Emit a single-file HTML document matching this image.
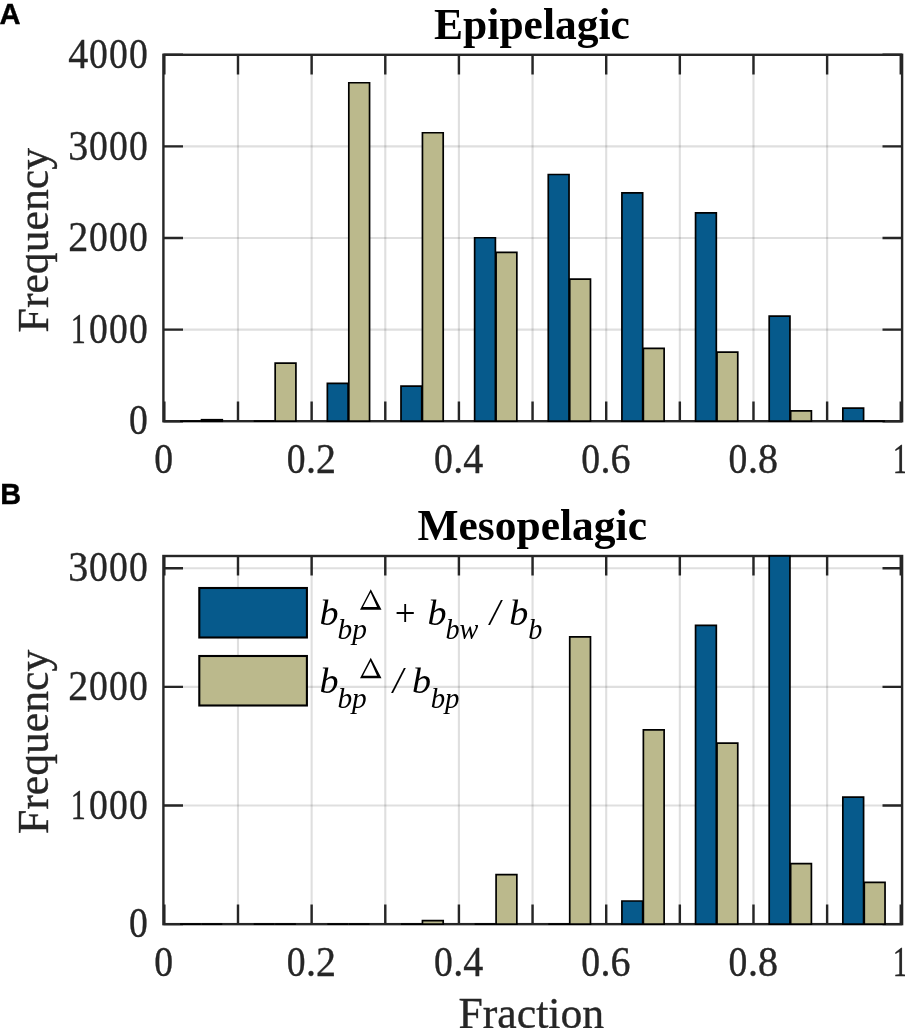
<!DOCTYPE html>
<html><head><meta charset="utf-8"><style>
html,body{margin:0;padding:0;background:#fff;}
svg{display:block;will-change:transform;}

</style></head><body>
<svg width="905" height="1028" viewBox="0 0 905 1028">
<rect width="905" height="1028" fill="#fff"/>
<path d="M238.00 54.80V421.20M311.64 54.80V421.20M385.28 54.80V421.20M458.92 54.80V421.20M532.56 54.80V421.20M606.20 54.80V421.20M679.84 54.80V421.20M753.48 54.80V421.20M827.12 54.80V421.20" stroke="#262626" stroke-opacity="0.15" stroke-width="2.1" fill="none"/>
<path d="M163.40 329.60H902.10M163.40 238.00H902.10M163.40 146.40H902.10" stroke="#262626" stroke-opacity="0.15" stroke-width="2.1" fill="none"/>
<path d="M164.36 421.20V401.60M164.36 54.80V74.40M238.00 421.20V401.60M238.00 54.80V74.40M311.64 421.20V401.60M311.64 54.80V74.40M385.28 421.20V401.60M385.28 54.80V74.40M458.92 421.20V401.60M458.92 54.80V74.40M532.56 421.20V401.60M532.56 54.80V74.40M606.20 421.20V401.60M606.20 54.80V74.40M679.84 421.20V401.60M679.84 54.80V74.40M753.48 421.20V401.60M753.48 54.80V74.40M827.12 421.20V401.60M827.12 54.80V74.40M900.76 421.20V401.60M900.76 54.80V74.40M163.40 421.20H183.00M902.10 421.20H882.50M163.40 329.60H183.00M902.10 329.60H882.50M163.40 238.00H183.00M902.10 238.00H882.50M163.40 146.40H183.00M902.10 146.40H882.50M163.40 54.80H183.00M902.10 54.80H882.50" stroke="#262626" stroke-width="2.4" fill="none"/>
<rect x="163.4" y="54.8" width="738.7" height="366.4" fill="none" stroke="#262626" stroke-width="2.4"/>
<path d="M180.08 421.20V421.20H200.83V421.20Z" fill="#065a8c" stroke="#000" stroke-width="1.7"/><path d="M201.53 421.20V419.73H222.28V421.20Z" fill="#bbb98c" stroke="#000" stroke-width="1.7"/><path d="M253.72 421.20V421.20H274.47V421.20Z" fill="#065a8c" stroke="#000" stroke-width="1.7"/><path d="M275.17 421.20V363.22H295.92V421.20Z" fill="#bbb98c" stroke="#000" stroke-width="1.7"/><path d="M327.36 421.20V383.28H348.11V421.20Z" fill="#065a8c" stroke="#000" stroke-width="1.7"/><path d="M348.81 421.20V82.74H369.56V421.20Z" fill="#bbb98c" stroke="#000" stroke-width="1.7"/><path d="M401.00 421.20V386.12H421.75V421.20Z" fill="#065a8c" stroke="#000" stroke-width="1.7"/><path d="M422.45 421.20V132.75H443.20V421.20Z" fill="#bbb98c" stroke="#000" stroke-width="1.7"/><path d="M474.64 421.20V237.73H495.39V421.20Z" fill="#065a8c" stroke="#000" stroke-width="1.7"/><path d="M496.09 421.20V252.29H516.84V421.20Z" fill="#bbb98c" stroke="#000" stroke-width="1.7"/><path d="M548.28 421.20V174.52H569.03V421.20Z" fill="#065a8c" stroke="#000" stroke-width="1.7"/><path d="M569.73 421.20V279.04H590.48V421.20Z" fill="#bbb98c" stroke="#000" stroke-width="1.7"/><path d="M621.92 421.20V192.93H642.67V421.20Z" fill="#065a8c" stroke="#000" stroke-width="1.7"/><path d="M643.37 421.20V348.47H664.12V421.20Z" fill="#bbb98c" stroke="#000" stroke-width="1.7"/><path d="M695.56 421.20V212.90H716.31V421.20Z" fill="#065a8c" stroke="#000" stroke-width="1.7"/><path d="M717.01 421.20V352.13H737.76V421.20Z" fill="#bbb98c" stroke="#000" stroke-width="1.7"/><path d="M769.20 421.20V316.04H789.95V421.20Z" fill="#065a8c" stroke="#000" stroke-width="1.7"/><path d="M790.65 421.20V410.85H811.40V421.20Z" fill="#bbb98c" stroke="#000" stroke-width="1.7"/><path d="M842.84 421.20V408.10H863.59V421.20Z" fill="#065a8c" stroke="#000" stroke-width="1.7"/><path d="M864.29 421.20V421.20H885.04V421.20Z" fill="#bbb98c" stroke="#000" stroke-width="1.7"/>
<path d="M238.00 556.00V924.15M311.64 556.00V924.15M385.28 556.00V924.15M458.92 556.00V924.15M532.56 556.00V924.15M606.20 556.00V924.15M679.84 556.00V924.15M753.48 556.00V924.15M827.12 556.00V924.15" stroke="#262626" stroke-opacity="0.15" stroke-width="2.1" fill="none"/>
<path d="M163.40 805.50H902.10M163.40 686.85H902.10M163.40 568.20H902.10" stroke="#262626" stroke-opacity="0.15" stroke-width="2.1" fill="none"/>
<path d="M164.36 924.15V904.55M164.36 556.00V575.60M238.00 924.15V904.55M238.00 556.00V575.60M311.64 924.15V904.55M311.64 556.00V575.60M385.28 924.15V904.55M385.28 556.00V575.60M458.92 924.15V904.55M458.92 556.00V575.60M532.56 924.15V904.55M532.56 556.00V575.60M606.20 924.15V904.55M606.20 556.00V575.60M679.84 924.15V904.55M679.84 556.00V575.60M753.48 924.15V904.55M753.48 556.00V575.60M827.12 924.15V904.55M827.12 556.00V575.60M900.76 924.15V904.55M900.76 556.00V575.60M163.40 924.15H183.00M902.10 924.15H882.50M163.40 805.50H183.00M902.10 805.50H882.50M163.40 686.85H183.00M902.10 686.85H882.50M163.40 568.20H183.00M902.10 568.20H882.50" stroke="#262626" stroke-width="2.4" fill="none"/>
<rect x="163.4" y="556.0" width="738.7" height="368.15" fill="none" stroke="#262626" stroke-width="2.4"/>
<path d="M180.08 924.15V924.15H200.83V924.15Z" fill="#065a8c" stroke="#000" stroke-width="1.7"/><path d="M201.53 924.15V924.15H222.28V924.15Z" fill="#bbb98c" stroke="#000" stroke-width="1.7"/><path d="M253.72 924.15V924.15H274.47V924.15Z" fill="#065a8c" stroke="#000" stroke-width="1.7"/><path d="M275.17 924.15V924.15H295.92V924.15Z" fill="#bbb98c" stroke="#000" stroke-width="1.7"/><path d="M327.36 924.15V924.15H348.11V924.15Z" fill="#065a8c" stroke="#000" stroke-width="1.7"/><path d="M348.81 924.15V924.15H369.56V924.15Z" fill="#bbb98c" stroke="#000" stroke-width="1.7"/><path d="M401.00 924.15V924.15H421.75V924.15Z" fill="#065a8c" stroke="#000" stroke-width="1.7"/><path d="M422.45 924.15V920.59H443.20V924.15Z" fill="#bbb98c" stroke="#000" stroke-width="1.7"/><path d="M474.64 924.15V924.15H495.39V924.15Z" fill="#065a8c" stroke="#000" stroke-width="1.7"/><path d="M496.09 924.15V874.55H516.84V924.15Z" fill="#bbb98c" stroke="#000" stroke-width="1.7"/><path d="M548.28 924.15V924.15H569.03V924.15Z" fill="#065a8c" stroke="#000" stroke-width="1.7"/><path d="M569.73 924.15V636.78H590.48V924.15Z" fill="#bbb98c" stroke="#000" stroke-width="1.7"/><path d="M621.92 924.15V901.01H642.67V924.15Z" fill="#065a8c" stroke="#000" stroke-width="1.7"/><path d="M643.37 924.15V729.92H664.12V924.15Z" fill="#bbb98c" stroke="#000" stroke-width="1.7"/><path d="M695.56 924.15V625.39H716.31V924.15Z" fill="#065a8c" stroke="#000" stroke-width="1.7"/><path d="M717.01 924.15V743.21H737.76V924.15Z" fill="#bbb98c" stroke="#000" stroke-width="1.7"/><path d="M769.20 924.15V556.00H789.95V924.15Z" fill="#065a8c" stroke="#000" stroke-width="1.7"/><path d="M790.65 924.15V863.64H811.40V924.15Z" fill="#bbb98c" stroke="#000" stroke-width="1.7"/><path d="M842.84 924.15V797.19H863.59V924.15Z" fill="#065a8c" stroke="#000" stroke-width="1.7"/><path d="M864.29 924.15V882.39H885.04V924.15Z" fill="#bbb98c" stroke="#000" stroke-width="1.7"/>
<g font-family="Liberation Serif" font-size="40" fill="#262626" stroke="#262626" stroke-width="0.35">
<text transform="translate(138.30 434.30) scale(0.94 1.035)" text-anchor="middle">0</text><text transform="translate(78.30 342.70) scale(0.75 1.035)" text-anchor="middle">1</text><text transform="translate(98.30 342.70) scale(0.94 1.035)" text-anchor="middle">0</text><text transform="translate(118.30 342.70) scale(0.94 1.035)" text-anchor="middle">0</text><text transform="translate(138.30 342.70) scale(0.94 1.035)" text-anchor="middle">0</text><text transform="translate(78.30 251.10) scale(1.0 1.035)" text-anchor="middle">2</text><text transform="translate(98.30 251.10) scale(0.94 1.035)" text-anchor="middle">0</text><text transform="translate(118.30 251.10) scale(0.94 1.035)" text-anchor="middle">0</text><text transform="translate(138.30 251.10) scale(0.94 1.035)" text-anchor="middle">0</text><text transform="translate(78.30 159.50) scale(1.0 1.035)" text-anchor="middle">3</text><text transform="translate(98.30 159.50) scale(0.94 1.035)" text-anchor="middle">0</text><text transform="translate(118.30 159.50) scale(0.94 1.035)" text-anchor="middle">0</text><text transform="translate(138.30 159.50) scale(0.94 1.035)" text-anchor="middle">0</text><text transform="translate(78.30 67.90) scale(1.0 1.035)" text-anchor="middle">4</text><text transform="translate(98.30 67.90) scale(0.94 1.035)" text-anchor="middle">0</text><text transform="translate(118.30 67.90) scale(0.94 1.035)" text-anchor="middle">0</text><text transform="translate(138.30 67.90) scale(0.94 1.035)" text-anchor="middle">0</text>
<text transform="translate(138.30 937.25) scale(0.94 1.035)" text-anchor="middle">0</text><text transform="translate(78.30 818.60) scale(0.75 1.035)" text-anchor="middle">1</text><text transform="translate(98.30 818.60) scale(0.94 1.035)" text-anchor="middle">0</text><text transform="translate(118.30 818.60) scale(0.94 1.035)" text-anchor="middle">0</text><text transform="translate(138.30 818.60) scale(0.94 1.035)" text-anchor="middle">0</text><text transform="translate(78.30 699.95) scale(1.0 1.035)" text-anchor="middle">2</text><text transform="translate(98.30 699.95) scale(0.94 1.035)" text-anchor="middle">0</text><text transform="translate(118.30 699.95) scale(0.94 1.035)" text-anchor="middle">0</text><text transform="translate(138.30 699.95) scale(0.94 1.035)" text-anchor="middle">0</text><text transform="translate(78.30 581.30) scale(1.0 1.035)" text-anchor="middle">3</text><text transform="translate(98.30 581.30) scale(0.94 1.035)" text-anchor="middle">0</text><text transform="translate(118.30 581.30) scale(0.94 1.035)" text-anchor="middle">0</text><text transform="translate(138.30 581.30) scale(0.94 1.035)" text-anchor="middle">0</text>
<text transform="translate(163.76 473.10) scale(0.94 1.035)" text-anchor="middle">0</text><text transform="translate(296.04 473.10) scale(0.94 1.035)" text-anchor="middle">0</text><text transform="translate(311.04 473.10) scale(1.0 1.035)" text-anchor="middle">.</text><text transform="translate(326.04 473.10) scale(1.0 1.035)" text-anchor="middle">2</text><text transform="translate(443.32 473.10) scale(0.94 1.035)" text-anchor="middle">0</text><text transform="translate(458.32 473.10) scale(1.0 1.035)" text-anchor="middle">.</text><text transform="translate(473.32 473.10) scale(1.0 1.035)" text-anchor="middle">4</text><text transform="translate(590.60 473.10) scale(0.94 1.035)" text-anchor="middle">0</text><text transform="translate(605.60 473.10) scale(1.0 1.035)" text-anchor="middle">.</text><text transform="translate(620.60 473.10) scale(1.0 1.035)" text-anchor="middle">6</text><text transform="translate(737.88 473.10) scale(0.94 1.035)" text-anchor="middle">0</text><text transform="translate(752.88 473.10) scale(1.0 1.035)" text-anchor="middle">.</text><text transform="translate(767.88 473.10) scale(1.0 1.035)" text-anchor="middle">8</text><text transform="translate(900.16 473.10) scale(0.75 1.035)" text-anchor="middle">1</text>
<text transform="translate(163.76 976.10) scale(0.94 1.035)" text-anchor="middle">0</text><text transform="translate(296.04 976.10) scale(0.94 1.035)" text-anchor="middle">0</text><text transform="translate(311.04 976.10) scale(1.0 1.035)" text-anchor="middle">.</text><text transform="translate(326.04 976.10) scale(1.0 1.035)" text-anchor="middle">2</text><text transform="translate(443.32 976.10) scale(0.94 1.035)" text-anchor="middle">0</text><text transform="translate(458.32 976.10) scale(1.0 1.035)" text-anchor="middle">.</text><text transform="translate(473.32 976.10) scale(1.0 1.035)" text-anchor="middle">4</text><text transform="translate(590.60 976.10) scale(0.94 1.035)" text-anchor="middle">0</text><text transform="translate(605.60 976.10) scale(1.0 1.035)" text-anchor="middle">.</text><text transform="translate(620.60 976.10) scale(1.0 1.035)" text-anchor="middle">6</text><text transform="translate(737.88 976.10) scale(0.94 1.035)" text-anchor="middle">0</text><text transform="translate(752.88 976.10) scale(1.0 1.035)" text-anchor="middle">.</text><text transform="translate(767.88 976.10) scale(1.0 1.035)" text-anchor="middle">8</text><text transform="translate(900.16 976.10) scale(0.75 1.035)" text-anchor="middle">1</text>
</g>
<g font-family="Liberation Serif" font-size="44.5" fill="#262626" stroke="#262626" stroke-width="0.35">
<text transform="translate(47.9 240.2) rotate(-90) scale(0.982 1)" text-anchor="middle">Frequency</text>
<text transform="translate(47.9 741.9) rotate(-90) scale(0.982 1)" text-anchor="middle">Frequency</text>
<text transform="translate(531.3 1027.9) scale(0.982 1)" text-anchor="middle">Fraction</text>
</g>
<g font-family="Liberation Serif" font-weight="bold" font-size="43.5" fill="#000">
<text x="532" y="38.75" text-anchor="middle">Epipelagic</text>
<text x="532.2" y="540.1" text-anchor="middle">Mesopelagic</text>
</g>
<g font-family="Liberation Sans" font-weight="bold" font-size="30.4" fill="#000" stroke="#000" stroke-width="0.4">
<text transform="translate(-0.4 23.9) scale(0.96 1)">A</text><text transform="translate(0.2 504) scale(0.95 1)">B</text>
</g>
<rect x="199.3" y="588" width="107.6" height="49.5" fill="#065a8c" stroke="#000" stroke-width="2.1"/><rect x="199.3" y="656" width="107.6" height="49.5" fill="#bbb98c" stroke="#000" stroke-width="2.1"/><g font-family="Liberation Serif" fill="#000"><text transform="translate(319.6 624.60) scale(1.03 0.945)" font-size="37" font-style="italic">b</text><text transform="translate(337.6 638.80) scale(0.98 1)" font-size="30" font-style="italic">bp</text><path d="M370.75 589.15 L381.50 609.70 L360.00 609.70ZM370.60 592.60 L377.05 607.05 L362.96 607.05Z" fill="#000" fill-rule="evenodd"/><text transform="translate(394.8 625.60) scale(1 1)" font-size="37">+</text><text transform="translate(427.6 624.60) scale(1.03 0.945)" font-size="37" font-style="italic">b</text><text transform="translate(445.5 638.80) scale(0.94 1)" font-size="30" font-style="italic">bw</text><text transform="translate(489.8 624.60) scale(1 1)" font-size="37" font-style="italic">/</text><text transform="translate(509.3 624.60) scale(1.03 0.945)" font-size="37" font-style="italic">b</text><text transform="translate(528.3 638.80) scale(0.94 1)" font-size="30" font-style="italic">b</text><text transform="translate(319.6 693.30) scale(1.03 0.945)" font-size="37" font-style="italic">b</text><text transform="translate(337.4 707.50) scale(0.98 1)" font-size="30" font-style="italic">bp</text><path d="M370.75 657.75 L381.50 678.30 L360.00 678.30ZM370.60 661.20 L377.05 675.65 L362.96 675.65Z" fill="#000" fill-rule="evenodd"/><text transform="translate(392.7 693.30) scale(1 1)" font-size="37" font-style="italic">/</text><text transform="translate(411.9 693.30) scale(1.03 0.945)" font-size="37" font-style="italic">b</text><text transform="translate(430.7 707.50) scale(0.96 1)" font-size="30" font-style="italic">bp</text></g>
</svg>
</body></html>
